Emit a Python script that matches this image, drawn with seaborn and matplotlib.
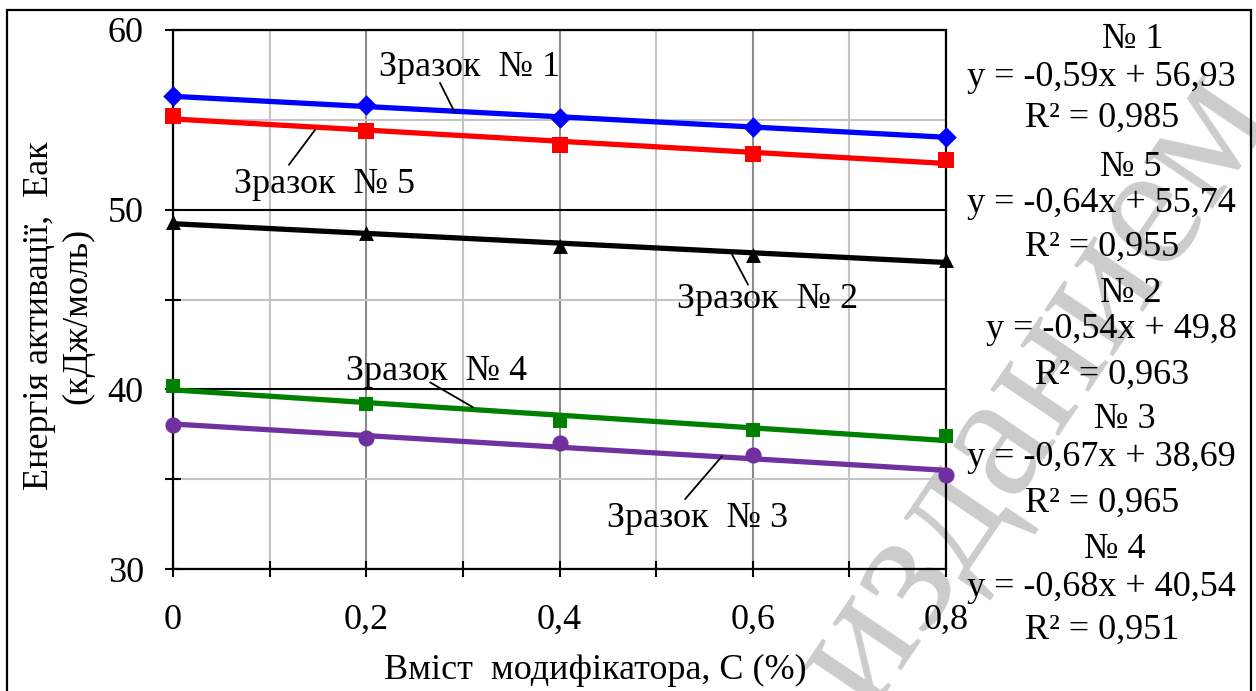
import numpy as np
import pandas as pd
import seaborn as sns
import matplotlib
matplotlib.use("Agg")
import matplotlib.pyplot as plt
from matplotlib.ticker import MultipleLocator, FixedLocator, FixedFormatter
from matplotlib.patches import Rectangle

# ---------------- data ----------------
x_content = [0.0, 0.2, 0.4, 0.6, 0.8]
sample1 = [56.30, 55.80, 55.10, 54.60, 54.05]
sample5 = [55.20, 54.40, 53.60, 53.10, 52.75]
sample2 = [49.30, 48.70, 48.00, 47.50, 47.20]
sample4 = [40.20, 39.20, 38.25, 37.75, 37.40]
sample3 = [38.00, 37.30, 37.00, 36.35, 35.25]

series_names = ["Зразок  № 1", "Зразок  № 5", "Зразок  № 2", "Зразок  № 4", "Зразок  № 3"]
series_values = [sample1, sample5, sample2, sample4, sample3]

xtick_values = [0.0, 0.2, 0.4, 0.6, 0.8]
xtick_labels = ["0", "0,2", "0,4", "0,6", "0,8"]
ytick_values = [30, 40, 50, 60]
ytick_labels = ["30", "40", "50", "60"]

eq_titles = ["№ 1", "№ 5", "№ 2", "№ 3", "№ 4"]
eq_lines = ["y = -0,59x + 56,93", "y = -0,64x + 55,74", "y = -0,54x + 49,8",
            "y = -0,67x + 38,69", "y = -0,68x + 40,54"]
r2_lines = ["R² = 0,985", "R² = 0,955", "R² = 0,963", "R² = 0,965", "R² = 0,951"]

x_label = "Вміст  модифікатора, С (%)"
y_label = "Енергія активації,  Еак\n(кДж/моль)"
watermark = "изданием"

# ---------------- styles / layout ----------------
colors = ["#0000FF", "#FF0000", "#000000", "#008000", "#7030A0"]
markers = ["D", "s", "^", "s", "o"]
msizes = [110, 125, 115, 100, 135]

# label text centres and leader lines (data coords)
label_pos = [(0.307, 57.89), (0.157, 51.39), (0.615, 45.0), (0.273, 41.0), (0.543, 32.83)]
leader_from = [(0.2763, 57.06), (0.120, 52.5), (0.5951, 45.83), (0.266, 40.39), (0.530, 33.89)]
leader_to = [(0.2918, 55.39), (0.147, 54.44), (0.5786, 47.5), (0.3105, 39.0), (0.5682, 36.28)]

# right-hand text block centres (pixels)
title_px = [(1133, 39), (1131, 167), (1131, 293), (1125, 420), (1115, 550)]
eq_px = [(1101, 77), (1101, 203), (1111, 330), (1101, 458), (1101, 587)]
r2_px = [(1102, 118), (1102, 247), (1112, 375), (1102, 503), (1102, 630)]

sns.set_theme(style="white")
plt.rcParams["font.family"] = ["Liberation Serif", "DejaVu Serif"]

W, H = 1256, 691
fig = plt.figure(figsize=(W / 100, H / 100), dpi=100)
fig.patch.set_facecolor("white")

ax = fig.add_axes([173 / W, 1 - 569 / H, (946 - 173) / W, (569 - 30) / H])
ax.patch.set_alpha(0)

FS = 26

for name, vals, c, m, s in zip(series_names, series_values, colors, markers, msizes):
    df = pd.DataFrame({"x": x_content, "y": vals})
    sns.regplot(data=df, x="x", y="y", ax=ax, ci=None, marker=m, color=c,
                scatter_kws={"s": s, "clip_on": False, "zorder": 5, "linewidths": 0,
                             "alpha": 1},
                line_kws={"lw": 3.8, "zorder": 4, "solid_capstyle": "butt"})

ax.set_xlim(0, 0.8)
ax.set_ylim(30, 60)

ax.xaxis.set_major_locator(FixedLocator(xtick_values))
ax.xaxis.set_major_formatter(FixedFormatter(xtick_labels))
ax.xaxis.set_minor_locator(MultipleLocator(0.1))
ax.yaxis.set_major_locator(FixedLocator(ytick_values))
ax.yaxis.set_major_formatter(FixedFormatter(ytick_labels))
ax.yaxis.set_minor_locator(MultipleLocator(5))

ax.set_axisbelow(True)
ax.xaxis.grid(True, which="major", color="#8c8c8c", lw=1.5)
ax.xaxis.grid(True, which="minor", color="#c4c4c4", lw=1.5)
ax.yaxis.grid(True, which="major", color="black", lw=1.5)
ax.yaxis.grid(True, which="minor", color="#c4c4c4", lw=1.5)

for sp in ax.spines.values():
    sp.set_visible(True)
    sp.set_color("black")
    sp.set_linewidth(1.6)

ax.tick_params(axis="both", which="both", direction="inout", length=12, width=1.5,
               color="black", labelcolor="black", labelsize=FS,
               bottom=True, left=True)
ax.tick_params(axis="x", which="major", pad=19)
ax.tick_params(axis="y", which="major", pad=15)

ax.set_xlabel(x_label, fontsize=FS, va="center", color="black")
ax.xaxis.set_label_coords((595 - 173) / 773, (569 - 670) / 539)
ax.set_ylabel(y_label, fontsize=FS, va="center", color="black", linespacing=1.2)
ax.yaxis.set_label_coords((59 - 173) / 773, (569 - 316) / 539)

for name, pos, p0, p1 in zip(series_names, label_pos, leader_from, leader_to):
    ax.text(pos[0], pos[1], name, fontsize=FS, ha="center", va="center",
            color="black", zorder=6)
    ax.annotate("", xy=p1, xytext=p0,
                arrowprops=dict(arrowstyle="-", color="black", lw=1.3,
                                shrinkA=0, shrinkB=0), zorder=6)

for t, e, r, tp, ep, rp in zip(eq_titles, eq_lines, r2_lines, title_px, eq_px, r2_px):
    fig.text(tp[0] / W, 1 - tp[1] / H, t, fontsize=FS, ha="center", va="center", color="black")
    fig.text(ep[0] / W, 1 - ep[1] / H, e, fontsize=FS, ha="center", va="center", color="black")
    fig.text(rp[0] / W, 1 - rp[1] / H, r, fontsize=FS, ha="center", va="center", color="black")

# watermark
fig.text(1035 / W, 1 - 390 / H, watermark, fontsize=130, color="#cccccc",
         ha="center", va="center", rotation=56, rotation_mode="anchor", zorder=-1)

# outer frame
fig.patches.append(Rectangle((7 / W, -0.02), (1251 - 7) / W, (H - 10) / H + 0.02,
                             transform=fig.transFigure, fill=False,
                             edgecolor="black", lw=1.6, zorder=10))

fig.savefig("out.png", dpi=100)
